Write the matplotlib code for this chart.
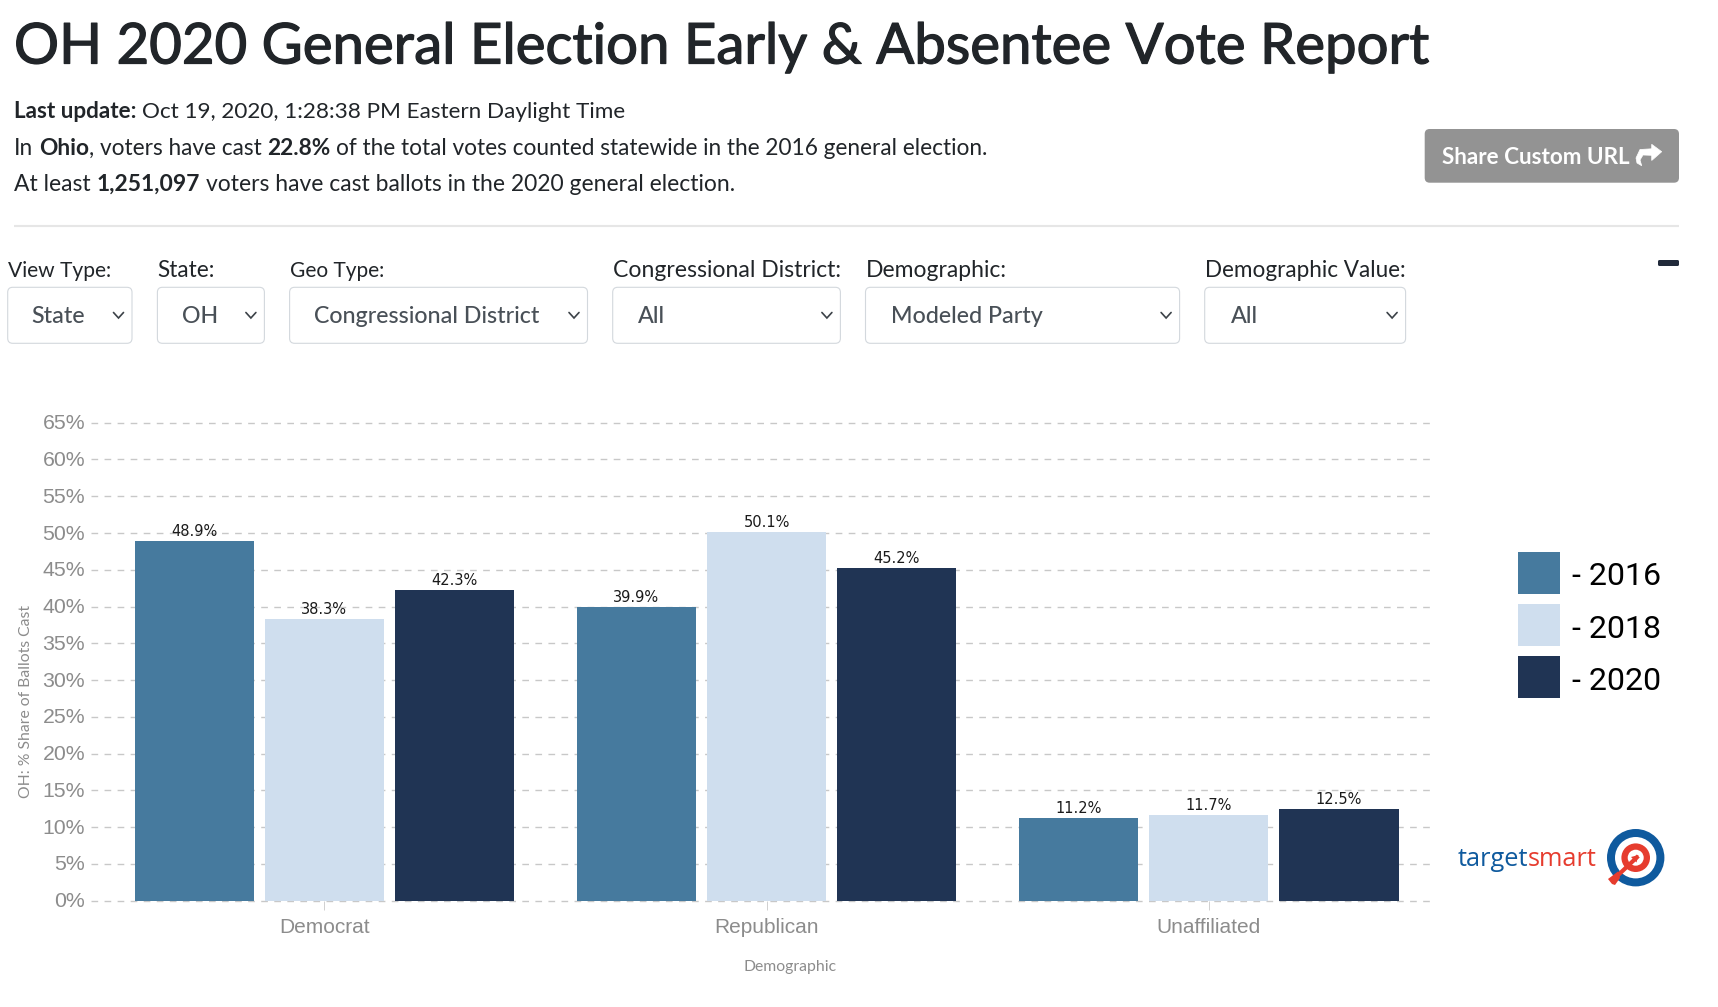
import matplotlib
matplotlib.use("Agg")
import matplotlib.pyplot as plt
import matplotlib.patheffects as pe
from matplotlib.patches import FancyBboxPatch, Circle, Polygon
from matplotlib.transforms import blended_transform_factory, ScaledTranslation

W, H = 1718, 1007

# ---------- data ----------
categories = ["Democrat", "Republican", "Unaffiliated"]
years = ["2016", "2018", "2020"]
shares_2016 = [48.9, 39.9, 11.2]
shares_2018 = [38.3, 50.1, 11.7]
shares_2020 = [42.3, 45.2, 12.5]
y_ticks = [0, 5, 10, 15, 20, 25, 30, 35, 40, 45, 50, 55, 60, 65]
bar_colors = ["#467a9e", "#cfdeee", "#203454"]

title = "OH 2020 General Election Early & Absentee Vote Report"
info_lines = [
    ([("Last update:", True), (" Oct 19, 2020, 1:28:38 PM Eastern Daylight Time", False)], 118, 626),
    ([("In ", False), ("Ohio", True), (", voters have cast ", False), ("22.8%", True),
      (" of the total votes counted statewide in the 2016 general election.", False)], 155, 991),
    ([("At least ", False), ("1,251,097", True), (" voters have cast ballots in the 2020 general election.", False)], 191, 734),
]
filters = [
    ("View Type:", "State", 7.7, 132, 103.7, 31.8),
    ("State:", "OH", 157.4, 264.4, 57.6, 182),
    ("Geo Type:", "Congressional District", 289.6, 587.5, 94.4, 314.3),
    ("Congressional District:", "All", 612.7, 840.4, 228, 638),
    ("Demographic:", "Modeled Party", 865.5, 1179.6, 140.6, 891),
    ("Demographic Value:", "All", 1204.7, 1405.6, 200.8, 1230.5),
]

FONT = "Lato"
INK = "#212529"
SELECT = "#495057"
AXIS_GREY = "#8c8c8c"

fig = plt.figure(figsize=(W / 100, H / 100), dpi=100, facecolor="white")
ui = fig.add_axes([0, 0, 1, 1])
ui.set_xlim(0, W)
ui.set_ylim(H, 0)
ui.axis("off")
rend = fig.canvas.get_renderer()


def measure(s, size, weight="normal", family=FONT):
    t = ui.text(0, 0, s, fontsize=size, family=family, fontweight=weight)
    w = t.get_window_extent(rend).width
    t.remove()
    return w


def run_width(s, size, weight):
    stripped = s.strip()
    sp = measure("n n", size, weight) - measure("nn", size, weight)
    n = (len(s) - len(s.lstrip())) + (len(s) - len(s.rstrip()))
    return measure(stripped, size, weight) + n * sp


def fit_text(x, y, s, width, color=INK, weight="normal", family=FONT, **kw):
    size = 20 * width / measure(s, 20, weight, family)
    return ui.text(x, y, s, fontsize=size, color=color, family=family,
                   fontweight=weight, va="baseline", ha="left", **kw)


# ---------- header ----------
tt = fit_text(14, 63.5, title, 1417, color=INK)
tt.set_path_effects([pe.withStroke(linewidth=0.9, foreground=INK)])

for runs, base, right in info_lines:
    total = sum(run_width(s, 20, "bold" if b else "normal") for s, b in runs)
    size = 20 * (right - 14) / total
    x = 14
    for s, b in runs:
        wt = "bold" if b else "normal"
        sp = measure("n n", size, wt) - measure("nn", size, wt)
        lead = len(s) - len(s.lstrip())
        ui.text(x + lead * sp, base, s.strip(), fontsize=size, color=INK, family=FONT,
                fontweight=wt, va="baseline", ha="left")
        x += run_width(s, size, wt)

ui.add_patch(FancyBboxPatch((1424.7 + 5, 129 + 5), 254.3 - 10, 53.7 - 10,
                            boxstyle="round,pad=5,rounding_size=5", fc="#939393", ec="none"))
fit_text(1441.7, 164, "Share Custom URL", 188.7, color="white", weight="bold")
share_verts = [(1661.7, 151.7), (1651.7, 144.3), (1651.7, 148.8), (1640, 149.5), (1636, 158),
               (1637, 163), (1641.7, 165.7), (1640, 160), (1643, 155), (1651.7, 155.3), (1651.7, 160.5), (1661.7, 151.7)]
ui.add_patch(Polygon(share_verts, closed=True, fc="white", ec="white", lw=0.5))

ui.plot([14, 1679], [225.7, 225.7], color="#e6e6e6", lw=1.5, solid_capstyle="butt")
ui.add_patch(FancyBboxPatch((1659.5, 261.5), 18, 3, boxstyle="round,pad=1.5,rounding_size=1.5",
                            fc="#212a3a", ec="none"))

# ---------- filter controls ----------
value_size = 20 * 226 / measure("Congressional District", 20, "medium")
for label, value, left, right, lab_w, val_x in filters:
    fit_text(left, 276.7, label, lab_w, color=INK)
    ui.add_patch(FancyBboxPatch((left + 5, 287.3 + 5), right - left - 10, 56 - 10,
                                boxstyle="round,pad=5,rounding_size=5", fc="white", ec="#d3d8dd", lw=0.8))
    ui.text(val_x, 322.7, value, fontsize=value_size, color=SELECT, family=FONT, fontweight="medium",
            va="baseline", ha="left")
    cx = right - 13.5
    ui.plot([cx - 5, cx, cx + 5], [312.5, 318, 312.5], color="#3c4248", lw=1.2,
            solid_capstyle="round", solid_joinstyle="miter")

# ---------- chart ----------
ax_l, ax_r, ax_t, ax_b = 103.3, 1429.8, 422.7, 900.7
ax = fig.add_axes([ax_l / W, 1 - ax_b / H, (ax_r - ax_l) / W, (ax_b - ax_t) / H])
ax.patch.set_visible(False)
ax.set_xlim(-0.5, 2.5)
ax.set_ylim(0, 65)
for sp in ax.spines.values():
    sp.set_visible(False)

grid_tf = blended_transform_factory(ax.transAxes, ax.transData)
for v in y_ticks:
    ax.plot([-12 / (ax_r - ax_l), 1], [v, v], transform=grid_tf, clip_on=False, color="#c8c8c8",
            lw=1.0, dashes=(4.8, 4.6), zorder=1)

pitch, width = 0.2946, 0.2695
for i, (yr, vals, col) in enumerate(zip(years, [shares_2016, shares_2018, shares_2020], bar_colors)):
    xs = [k + (i - 1) * pitch for k in range(len(categories))]
    bars = ax.bar(xs, vals, width=width, color=col, label=f"- {yr}", zorder=2, linewidth=0)
    ax.bar_label(bars, fmt="%.1f%%", padding=1.5, fontsize=10.5, color="#1a1a1a", family="DejaVu Sans", zorder=3)

ax.set_xticks(range(len(categories)))
ax.set_xticklabels(categories, fontsize=15, color=AXIS_GREY, family="Liberation Sans")
ax.tick_params(axis="x", length=6.5, width=0.7, color="#d0d0d0", pad=6.3)
ax.set_yticks(y_ticks)
ax.set_yticklabels([f"{v}%" for v in y_ticks], fontsize=15.3, color=AXIS_GREY, family="Liberation Sans")
ax.tick_params(axis="y", length=0, pad=13)
lift = ScaledTranslation(0, 1 / 100, fig.dpi_scale_trans)
for lab in ax.get_yticklabels():
    lab.set_transform(lab.get_transform() + lift)

size_y = 20 * 192 / measure("OH: % Share of Ballots Cast", 20)
ui.text(26, 701, "OH: % Share of Ballots Cast", rotation=90, ha="center", va="center",
        fontsize=size_y, color=AXIS_GREY, family=FONT)
size_x = 20 * 93 / measure("Demographic", 20)
ui.text(790, 967, "Demographic", ha="center", va="center", fontsize=size_x, color=AXIS_GREY, family=FONT)

leg = fig.legend(*ax.get_legend_handles_labels(), loc="upper left",
                 bbox_to_anchor=(1518.3 / W, 1 - 551.7 / H), frameon=False, borderpad=0, borderaxespad=0,
                 prop={"family": "Roboto", "size": 23.1}, labelcolor="black",
                 handlelength=1.3, handleheight=1.65, handletextpad=0.37, labelspacing=0.31)
for t in leg.get_texts():
    t.set_y(-2)

# ---------- logo ----------
logo_size = 20 * 139 / measure("targetsmart", 20, family="Open Sans")
ui.text(1527.7, 866, "target", ha="right", va="baseline", fontsize=logo_size, color="#0f5a9e", family="Open Sans")
ui.text(1527.7, 866, "smart", ha="left", va="baseline", fontsize=logo_size, color="#e63c2e", family="Open Sans")
cx, cy = 1635.7, 857.7
for r, c in [(28.7, "#0f5a9e"), (20.7, "white"), (14.3, "#e63c2e"), (8, "white")]:
    ui.add_patch(Circle((cx, cy), r, fc=c, ec="none"))
ui.plot([1614, 1638.3], [879, 856], color="#e63c2e", lw=3, solid_capstyle="butt")
ui.add_patch(Polygon([(1638.5, 855), (1631, 857), (1636.5, 862.5)], closed=True, fc="#e63c2e", ec="none"))
ui.add_patch(Polygon([(1608, 879), (1618, 871.5), (1620, 878), (1615, 885), (1612, 884)], closed=True,
                     fc="#e63c2e", ec="none"))

fig.savefig("out.png", dpi=100, facecolor="white")
